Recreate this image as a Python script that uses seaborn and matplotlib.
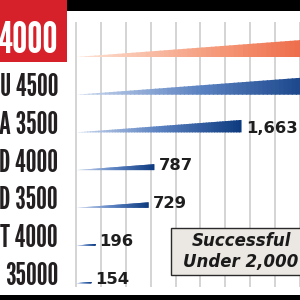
import numpy as np
import pandas as pd
import matplotlib
matplotlib.use("Agg")
import matplotlib.pyplot as plt
import seaborn as sns
from matplotlib.patches import Rectangle
from matplotlib.collections import PolyCollection
from matplotlib.colors import LinearSegmentedColormap
from matplotlib.transforms import ScaledTranslation

# ---- data ----
models = ["4000", "U 4500", "A 3500", "D 4000", "D 3500", "T 4000", "35000"]
sales = [2800, 2500, 1663, 787, 729, 196, 154]
group = ["highlight", "other", "other", "other", "other", "other", "other"]
grid_ticks = list(range(0, 2251, 250))
box_lines = ["Successful", "Under 2,000"]

sns.set_theme(style="white")
plt.rcParams["font.family"] = ["DejaVu Sans"]

W = H = 300
fig = plt.figure(figsize=(3, 3), dpi=100)
fig.patch.set_facecolor("white")
ax = fig.add_axes([70 / W, 13 / H, 230 / W, 265 / H])
ax.set_facecolor("none")

df = pd.DataFrame({"model": models, "sales": sales, "group": group})
sns.barplot(data=df, x="sales", y="model", orient="h", width=0.3,
            color="#1f4e96", ax=ax)

cmaps = {
    "highlight": LinearSegmentedColormap.from_list("r", ["#fde3d6", "#f59a7a", "#e9512d"]),
    "other": LinearSegmentedColormap.from_list("b", ["#cdd9ef", "#5b82c1", "#0d3a7f"]),
}
row_px = 37.7
px_per_unit = 0.1
slope = 0.075
k = slope * px_per_unit / row_px  # wedge thickness per unit (rows)

nseg = 60
overlap = 12.0  # data units (~1.2 px) so slices cover each other's seams
for p, v, g in zip(ax.patches, sales, group):
    p.set_visible(False)
    x0 = p.get_x()
    w = p.get_width()
    base = p.get_y() + p.get_height()
    xs = np.linspace(x0, x0 + w, nseg + 1)
    polys, cols = [], []
    for i in range(nseg):
        xa = xs[i]
        xb = min(xs[i + 1] + overlap, x0 + w)
        ta = k * (xa - x0)
        tb = k * (xb - x0)
        polys.append([(xa, base), (xb, base), (xb, base - tb), (xa, base - ta)])
        cols.append(cmaps[g]((i + 0.5) / nseg))
    pc = PolyCollection(polys, facecolors=cols, edgecolors="none", linewidths=0, zorder=3)
    ax.add_collection(pc)
    if x0 + w < 2000:
        ax.annotate(f"{v:,}", xy=(x0 + w, base), xytext=(3.0, 3.0),
                    textcoords="offset points", ha="left", va="center",
                    fontsize=11.8, fontweight="bold", color="#1e1e1e",
                    family=["DejaVu Sans"], zorder=4)

ax.set_xlim(-60, 2240)
base0 = 0.15
top = base0 - (57 - 22) / row_px
ax.set_ylim(top + 265 / row_px, top)

ax.set_xticks(grid_ticks)
ax.tick_params(axis="x", length=0, labelbottom=False)
ax.grid(axis="x", color="#c9c9c9", linewidth=1.1)
ax.grid(axis="y", visible=False)
ax.set_axisbelow(True)
for s in ax.spines.values():
    s.set_visible(False)
ax.set_xlabel("")
ax.set_ylabel("")

ax.tick_params(axis="y", length=0, pad=8.6)
ax.set_yticks(np.arange(len(models)) + base0 - 10 / row_px)
ax.set_yticklabels(models, fontsize=22, color="#231f20",
                   family=["League Gothic", "DejaVu Sans"])
lab0 = ax.get_yticklabels()[0]
lab0.set_fontsize(31)
lab0.set_color("white")
lab0.set_transform(lab0.get_transform() + ScaledTranslation(0, 10 / 100, fig.dpi_scale_trans))

# decorative frame pieces
fig.add_artist(Rectangle((0, 1 - 62 / H), 67 / W, 62 / H, transform=fig.transFigure,
                         facecolor="#d6212a", edgecolor="none", zorder=-5))
fig.add_artist(Rectangle((67 / W, 1 - 11 / H), 233 / W, 11 / H, transform=fig.transFigure,
                         facecolor="black", edgecolor="none", zorder=-5))
fig.add_artist(Rectangle((0, 0), 1, 5 / H, transform=fig.transFigure,
                         facecolor="black", edgecolor="none", zorder=5))

# note box
fig.add_artist(Rectangle((171 / W, 1 - 275 / H), 140 / W, 47 / H, transform=fig.transFigure,
                         facecolor="#ebe7e2", edgecolor="#2a2a2a", linewidth=1.0, zorder=5))
fig.text(241 / W, 1 - 241 / H, box_lines[0], ha="center", va="center", fontsize=12,
         fontweight="bold", style="italic", color="#1a1a1a", zorder=6)
fig.text(241 / W, 1 - 262 / H, box_lines[1], ha="center", va="center", fontsize=12,
         fontweight="bold", style="italic", color="#1a1a1a", zorder=6)

fig.savefig("out.png", dpi=100)
